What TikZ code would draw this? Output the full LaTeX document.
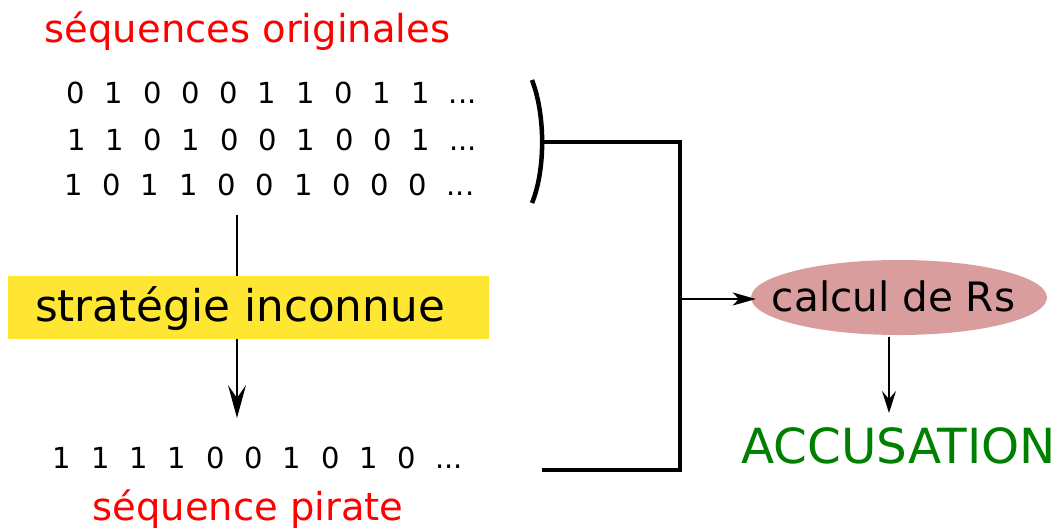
\documentclass[tikz,border=0pt]{standalone}
\usepackage{fontspec}
\setmainfont{DejaVu Sans}
\usetikzlibrary{arrows.meta,shapes.geometric}
\definecolor{ybox}{RGB}{255,230,51}
\definecolor{rose}{RGB}{218,157,157}
\definecolor{accgreen}{RGB}{0,128,0}
\newlength\bitw
\setlength\bitw{38.3pt}
\newcommand\bd[1]{\makebox[\bitw]{#1}}
\newcommand\bdots{\makebox[46.3pt]{...}}
\begin{document}
\begin{tikzpicture}[x=1pt,y=-1pt,
  title/.style={inner sep=0pt, anchor=base, text=red, font=\fontsize{38.5pt}{46pt}\selectfont},
  bits/.style={inner sep=0pt, anchor=base west, font=\fontsize{29pt}{35pt}\selectfont},
  thick line/.style={line width=3.2pt, line join=miter},
  thin arrow/.style={line width=1.8pt},
]
\useasboundingbox (0,0) rectangle (1064,528);

% titles
\node[title] (orig) at (247.5,42) {séquences originales};
\node[title] (pir) at (248,520) {séquence pirate};

% original sequences
\node[bits] (r1) at (56.4,103.3) {\bd0\bd1\bd0\bd0\bd0\bd1\bd1\bd0\bd1\bd1\bdots};
\node[bits] (r2) at (57,150) {\bd1\bd1\bd0\bd1\bd0\bd0\bd1\bd0\bd0\bd1\bdots};
\node[bits] (r3) at (54.2,195) {\bd1\bd0\bd1\bd1\bd0\bd0\bd1\bd0\bd0\bd0\bdots};

% pirate sequence
\node[bits] (pseq) at (42.85,468) {\bd1\bd1\bd1\bd1\bd0\bd0\bd1\bd0\bd1\bd0\bdots};

% vertical arrow through the unknown strategy
\coordinate (a1) at (237,215);
\coordinate (a2) at (237,418);
\draw[thin arrow, -{Stealth[length=33pt, width=18pt, inset=13pt]}] (a1) -- (a2);

\node[fill=ybox, inner sep=0pt, minimum width=481pt, minimum height=63pt,
      text height=37pt, text depth=10pt, font=\fontsize{43.7pt}{52pt}\selectfont]
  (strat) at (248.5,307.5) {stratégie inconnue\hspace*{17pt}};

% bracket
\coordinate (btop) at (532,80);
\coordinate (bbot) at (532,203);
\coordinate (bmid) at (542,142);
\draw[line width=4.5pt] (btop) .. controls (545.5,115) and (545.5,170) .. (bbot);

% joining lines
\coordinate (vx) at (680,299);
\coordinate (pend) at (542,470);
\draw[thick line] (bmid) -| (vx) |- (pend);

% ellipse
\node[ellipse, fill=rose, inner sep=0pt, minimum width=296pt, minimum height=75pt,
      text height=37pt, text depth=10pt, font=\fontsize{40.5pt}{48pt}\selectfont]
  (calc) at (899,297.5) {\makebox[0pt]{calcul de Rs\hspace*{11pt}}};

\draw[thin arrow, -{Stealth[length=23pt, width=13pt, inset=6pt]}] (vx) -- ([xshift=5pt]vx -| calc.west);

% result
\coordinate (c1) at (889,337);
\coordinate (c2) at (889,413);
\draw[thin arrow, -{Stealth[length=22pt, width=14pt, inset=8pt]}] (c1) -- (c2);
\node[inner sep=0pt, anchor=base, text=accgreen, font=\fontsize{48.4pt}{58pt}\selectfont]
  (acc) at (898.5,463) {ACCUSATION};
\end{tikzpicture}
\end{document}
